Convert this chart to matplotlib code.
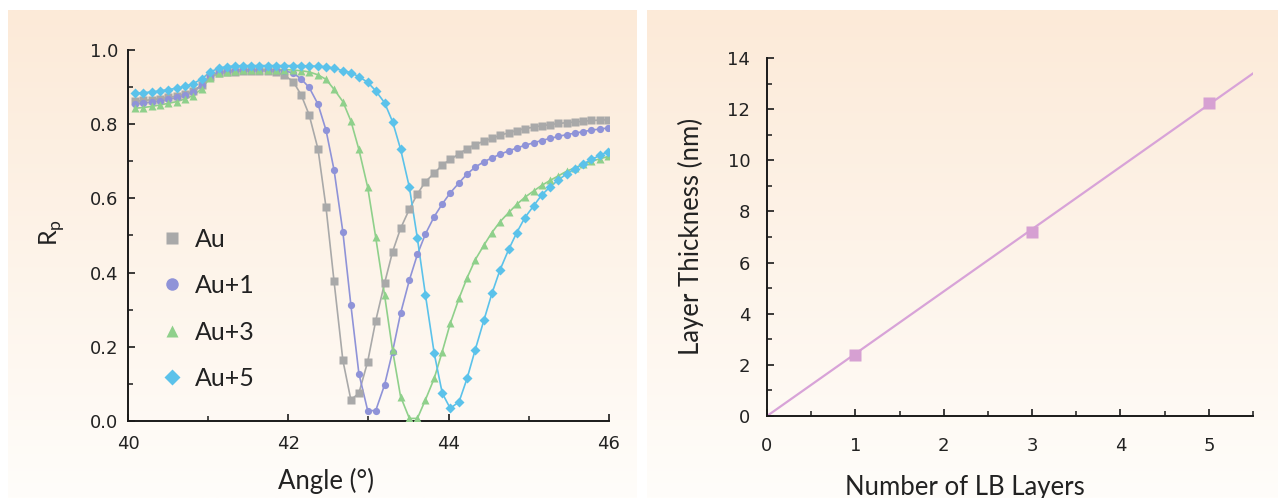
import numpy as np
import matplotlib
matplotlib.use("Agg")
import matplotlib.pyplot as plt
from matplotlib.lines import Line2D
from matplotlib.ticker import MultipleLocator

# ---- SPR curves (left panel) ----
angle = [40.09, 40.19, 40.30, 40.40, 40.50, 40.61, 40.71, 40.81, 40.92, 41.02,
         41.13, 41.23, 41.33, 41.44, 41.54, 41.64, 41.75, 41.85, 41.95, 42.06,
         42.16, 42.26, 42.37, 42.47, 42.57, 42.68, 42.78, 42.88, 42.99, 43.09,
         43.20, 43.30, 43.40, 43.51, 43.61, 43.71, 43.82, 43.92, 44.02, 44.13,
         44.23, 44.33, 44.44, 44.54, 44.64, 44.75, 44.85, 44.95, 45.06, 45.16,
         45.27, 45.37, 45.47, 45.58, 45.68, 45.78, 45.89, 45.99]

rp_au = [0.862, 0.864, 0.866, 0.869, 0.872, 0.876, 0.881, 0.889, 0.905, 0.928,
         0.937, 0.940, 0.942, 0.943, 0.944, 0.944, 0.943, 0.940, 0.932, 0.915,
         0.879, 0.825, 0.733, 0.576, 0.377, 0.164, 0.057, 0.075, 0.160, 0.270,
         0.371, 0.456, 0.519, 0.571, 0.612, 0.645, 0.668, 0.690, 0.705, 0.720,
         0.734, 0.745, 0.754, 0.762, 0.770, 0.777, 0.783, 0.788, 0.792, 0.796,
         0.799, 0.802, 0.804, 0.806, 0.808, 0.810, 0.811, 0.812]

rp_au1 = [0.855, 0.857, 0.860, 0.863, 0.867, 0.872, 0.878, 0.887, 0.905, 0.930,
          0.940, 0.943, 0.945, 0.946, 0.947, 0.947, 0.947, 0.946, 0.944, 0.938,
          0.922, 0.899, 0.854, 0.784, 0.677, 0.510, 0.313, 0.128, 0.028, 0.028,
          0.097, 0.187, 0.290, 0.380, 0.449, 0.504, 0.551, 0.585, 0.615, 0.642,
          0.666, 0.684, 0.699, 0.709, 0.719, 0.728, 0.736, 0.743, 0.750, 0.756,
          0.762, 0.767, 0.772, 0.776, 0.780, 0.784, 0.787, 0.790]

rp_au3 = [0.843, 0.845, 0.848, 0.852, 0.856, 0.861, 0.868, 0.877, 0.895, 0.925,
          0.937, 0.941, 0.943, 0.945, 0.946, 0.947, 0.947, 0.947, 0.947, 0.946,
          0.944, 0.941, 0.933, 0.921, 0.894, 0.861, 0.809, 0.732, 0.630, 0.495,
          0.340, 0.191, 0.066, 0.007, 0.007, 0.057, 0.115, 0.187, 0.263, 0.331,
          0.386, 0.434, 0.474, 0.508, 0.537, 0.562, 0.584, 0.603, 0.620, 0.635,
          0.649, 0.661, 0.673, 0.683, 0.692, 0.700, 0.707, 0.713]

rp_au5 = [0.883, 0.885, 0.887, 0.890, 0.893, 0.897, 0.902, 0.909, 0.922, 0.940,
          0.951, 0.955, 0.957, 0.958, 0.958, 0.958, 0.958, 0.958, 0.958, 0.958,
          0.958, 0.957, 0.956, 0.955, 0.951, 0.944, 0.939, 0.928, 0.913, 0.890,
          0.858, 0.807, 0.733, 0.630, 0.492, 0.340, 0.182, 0.075, 0.034, 0.052,
          0.115, 0.191, 0.272, 0.344, 0.407, 0.463, 0.508, 0.548, 0.580, 0.609,
          0.632, 0.650, 0.666, 0.680, 0.693, 0.705, 0.716, 0.726]

series_labels = ["Au", "Au+1", "Au+3", "Au+5"]
series_colors = ["#a9a9a9", "#8f93d8", "#8fd08b", "#5bc2ea"]
series_markers = ["s", "o", "^", "D"]

# ---- LB layer thickness (right panel) ----
lb_layers = [1, 3, 5]
thickness = [2.4, 7.2, 12.25]
fit_range = [0, 5.5]

tick_color = "#222222"
label_font = "Lato"

fig = plt.figure(figsize=(12.81, 4.98), dpi=100)

# gradient panel backgrounds
bg = fig.add_axes([0, 0, 1, 1], zorder=-10)
bg.set_xlim(0, 1281)
bg.set_ylim(498, 0)
bg.axis("off")
top = np.array([252, 234, 216]) / 255
bot = np.array([255, 253, 250]) / 255
t = np.linspace(0, 1, 256)[:, None]
grad = (top[None, :] * (1 - t) + bot[None, :] * t)[:, None, :]
bg.imshow(grad, extent=(8, 637, 498, 10), aspect="auto")
bg.imshow(grad, extent=(647, 1278, 498, 10), aspect="auto")


def style_axes(ax, xpad, ypad):
    ax.set_facecolor("none")
    for s in ["top", "right"]:
        ax.spines[s].set_visible(False)
    for s in ["left", "bottom"]:
        ax.spines[s].set_linewidth(1.4)
        ax.spines[s].set_color("#1a1a1a")
    ax.tick_params(which="both", direction="in", color="#1a1a1a",
                   labelcolor=tick_color, labelsize=13)
    ax.tick_params(which="major", length=5, width=1.2)
    ax.tick_params(which="minor", length=3.5, width=1.1)
    ax.tick_params(axis="x", which="both", pad=xpad)
    ax.tick_params(axis="y", which="both", pad=ypad)


# ---- left panel ----
ax1 = fig.add_axes([128 / 1281, 1 - 421 / 498, 481 / 1281, 371 / 498])
series = [rp_au, rp_au1, rp_au3, rp_au5]
for vals, c, m in zip(series, series_colors, series_markers):
    ax1.plot(angle, vals, color=c, lw=1.2, zorder=2)
    ax1.plot(angle, vals, ls="none", marker=m, color=c,
             markersize=5.2 if m != "D" else 4.6, mec="none", zorder=3)
ax1.set_xlim(40, 46)
ax1.set_ylim(0, 1.0)
ax1.xaxis.set_major_locator(MultipleLocator(2))
ax1.xaxis.set_minor_locator(MultipleLocator(1))
ax1.yaxis.set_major_locator(MultipleLocator(0.2))
ax1.yaxis.set_minor_locator(MultipleLocator(0.1))
ax1.yaxis.set_major_formatter(lambda v, p: f"{v:.1f}")
style_axes(ax1, 10, 7)

handles = [Line2D([], [], ls="none", marker=m, color=c, mec="none",
                  markersize=9 if m != "D" else 8.5)
           for c, m in zip(series_colors, series_markers)]
ax1.legend(handles, series_labels, loc="center left", bbox_to_anchor=(0.045, 0.302),
           frameon=False, handlelength=1.0, handletextpad=0.4, labelspacing=0.94,
           borderaxespad=0, prop={"family": label_font, "size": 18},
           labelcolor="#222222")

fig.text(326 / 1281, 1 - 481 / 498, "Angle (°)", ha="center", va="center",
         fontsize=18.5, family=label_font, color="#222222")
fig.text(52 / 1281, 1 - 232 / 498, "R$_\\mathregular{p}$", ha="center", va="center",
         rotation=90, fontsize=18, family=label_font, color="#222222")

# ---- right panel ----
ax2 = fig.add_axes([767 / 1281, 1 - 416 / 498, 486 / 1281, 358 / 498])
slope = np.sum(np.array(lb_layers) * np.array(thickness)) / np.sum(np.array(lb_layers) ** 2)
ax2.plot(fit_range, [slope * v for v in fit_range], color="#d8a3d8", lw=1.6, zorder=2)
ax2.plot(lb_layers, thickness, ls="none", marker="s", color="#d6a0d2",
         markersize=8, mec="none", zorder=3)
ax2.set_xlim(0, 5.5)
ax2.set_ylim(0, 14)
ax2.xaxis.set_major_locator(MultipleLocator(1))
ax2.xaxis.set_minor_locator(MultipleLocator(0.5))
ax2.yaxis.set_major_locator(MultipleLocator(2))
ax2.yaxis.set_minor_locator(MultipleLocator(1))
style_axes(ax2, 15, 12)

fig.text(965 / 1281, 1 - 487 / 498, "Number of LB Layers", ha="center", va="center",
         fontsize=18.5, family=label_font, color="#222222")
fig.text(691 / 1281, 1 - 236 / 498, "Layer Thickness (nm)", ha="center", va="center",
         rotation=90, fontsize=18.5, family=label_font, color="#222222")

fig.savefig("out.png", dpi=100)
